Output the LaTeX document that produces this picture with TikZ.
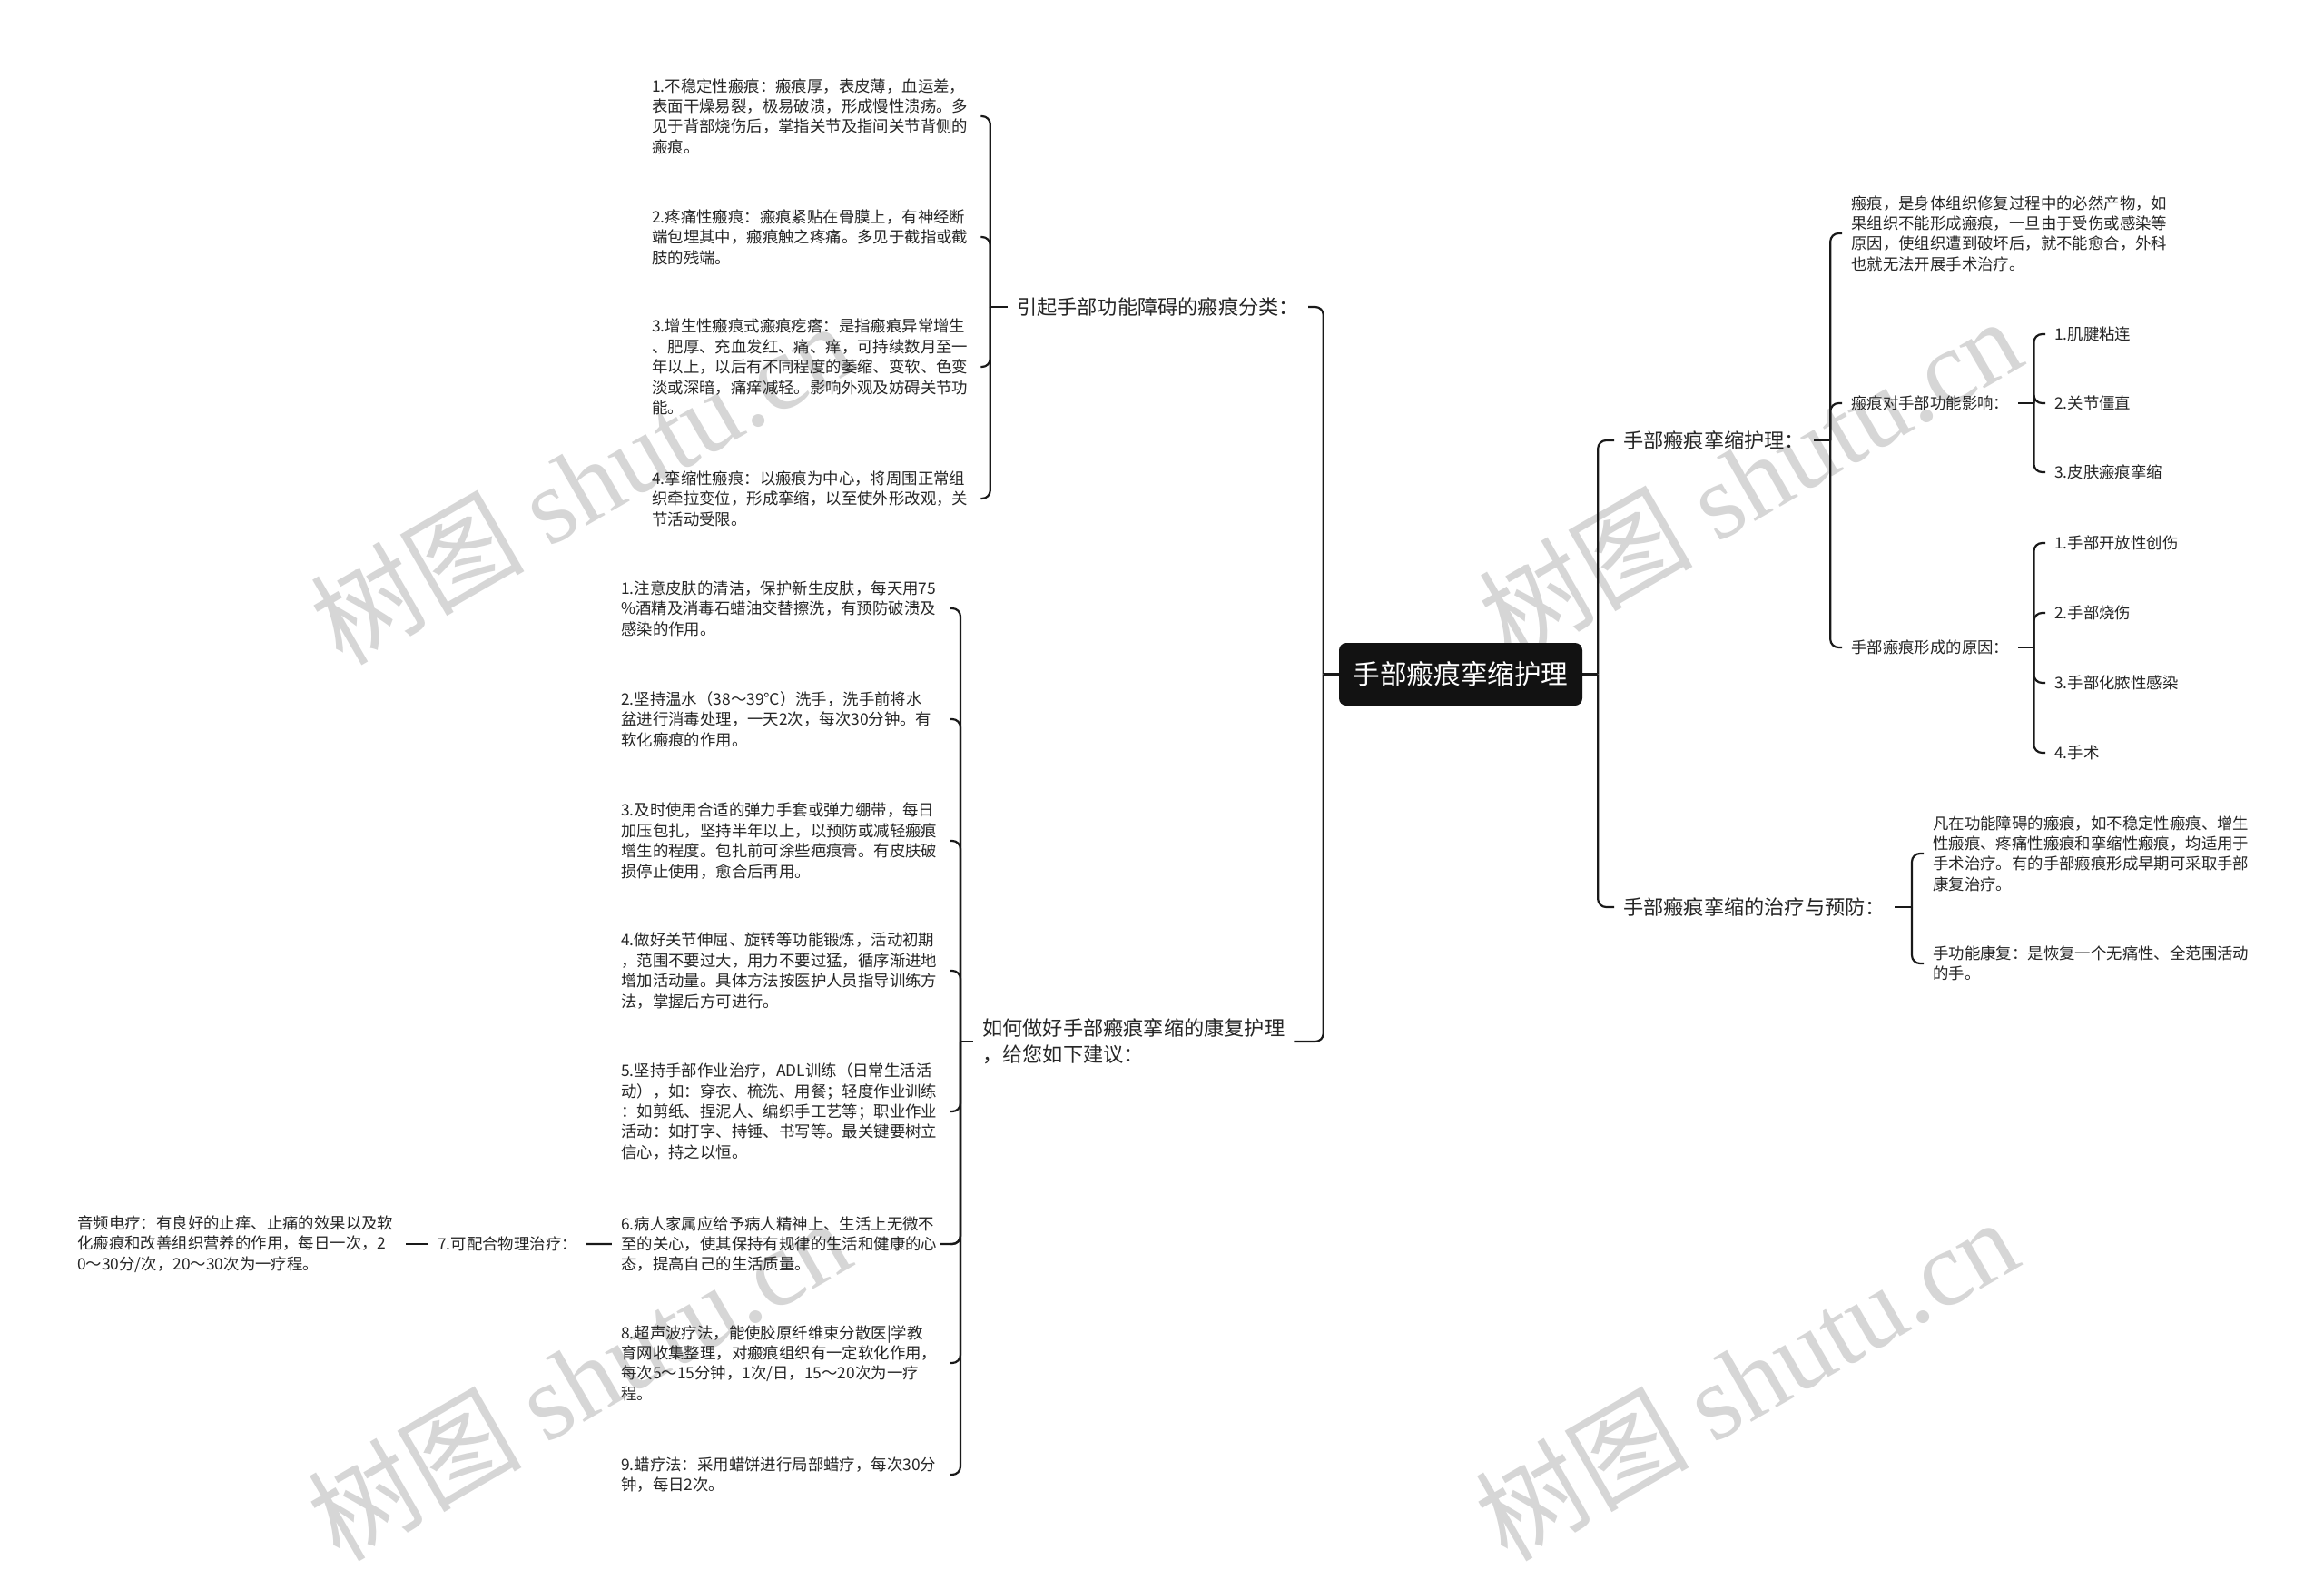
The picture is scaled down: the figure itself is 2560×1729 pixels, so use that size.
\documentclass[tikz,border=0pt]{standalone}
\usepackage{fontspec}
\setmainfont{Noto Sans CJK SC}
\newfontfamily\wmlatin{Liberation Serif}
\usetikzlibrary{calc}
\pgfdeclarelayer{bg}
\pgfdeclarelayer{under}
\pgfdeclarelayer{mask}
\pgfdeclarelayer{wm}
\pgfdeclarelayer{lines}
\pgfsetlayers{bg,under,mask,wm,lines,main}
\tikzset{
  conn/.style={draw=black!90, line width=2.2pt, rounded corners=9pt},
  lvone/.style={font=\fontsize{22.2}{29}\selectfont, text=black!85, inner xsep=10pt, inner ysep=3pt, align=left},
  lvtwo/.style={font=\fontsize{17.4}{22.4}\selectfont, text=black!85, inner xsep=10pt, inner ysep=3pt, align=left},
  para/.style={lvtwo, text width=352pt},
  rootbox/.style={rectangle, rounded corners=8pt, fill=black!93, text=white, font=\fontsize{29.6}{32}\selectfont, minimum width=268pt, minimum height=69pt, inner sep=0pt},
  wmark/.style={rotate=30, text=black!16, font=\fontsize{118}{118}\selectfont, inner sep=0pt}
}
\begin{document}
\begin{tikzpicture}[x=1pt,y=-1pt]
\useasboundingbox (0,0) rectangle (2560,1729);
\begin{pgfonlayer}{bg}
\fill[white] (0,0) rectangle (2560,1729);
\end{pgfonlayer}

% watermarks
\begin{pgfonlayer}{wm}
\node[wmark] (wm1) at (640,531) {树图 {\wmlatin shutu.cn}};
\node[wmark] (wm2) at (1927,526) {树图 {\wmlatin shutu.cn}};
\node[wmark] (wm3) at (637,1518) {树图 {\wmlatin shutu.cn}};
\node[wmark] (wm4) at (1923,1518) {树图 {\wmlatin shutu.cn}};
\end{pgfonlayer}

% root
\node[rootbox] (root) at (1609,742.5) {手部瘢痕挛缩护理};

% left main branches
\node[lvone, anchor=east] (b1) at (1441,338) {引起手部功能障碍的瘢痕分类：};
\node[lvone, anchor=west] (b2) at (1072,1147) {如何做好手部瘢痕挛缩的康复护理\\，给您如下建议：};

% branch 1 items
\node[para, anchor=west] (a1) at (708,128) {1.不稳定性瘢痕：瘢痕厚，表皮薄，血运差，\\表面干燥易裂，极易破溃，形成慢性溃疡。多\\见于背部烧伤后，掌指关节及指间关节背侧的\\瘢痕。};
\node[para, anchor=west] (a2) at (708,261) {2.疼痛性瘢痕：瘢痕紧贴在骨膜上，有神经断\\端包埋其中，瘢痕触之疼痛。多见于截指或截\\肢的残端。};
\node[para, anchor=west] (a3) at (708,404) {3.增生性瘢痕式瘢痕疙瘩：是指瘢痕异常增生\\、肥厚、充血发红、痛、痒，可持续数月至一\\年以上，以后有不同程度的萎缩、变软、色变\\淡或深暗，痛痒减轻。影响外观及妨碍关节功\\能。};
\node[para, anchor=west] (a4) at (708,549) {4.挛缩性瘢痕：以瘢痕为中心，将周围正常组\\织牵拉变位，形成挛缩，以至使外形改观，关\\节活动受限。};

% branch 2 items
\node[para, anchor=west] (c1) at (674,670) {1.注意皮肤的清洁，保护新生皮肤，每天用75\\\%酒精及消毒石蜡油交替擦洗，有预防破溃及\\感染的作用。};
\node[para, anchor=west] (c2) at (674,792) {2.坚持温水（38～39℃）洗手，洗手前将水\\盆进行消毒处理，一天2次，每次30分钟。有\\软化瘢痕的作用。};
\node[para, anchor=west] (c3) at (674,926) {3.及时使用合适的弹力手套或弹力绷带，每日\\加压包扎，坚持半年以上，以预防或减轻瘢痕\\增生的程度。包扎前可涂些疤痕膏。有皮肤破\\损停止使用，愈合后再用。};
\node[para, anchor=west] (c4) at (674,1069) {4.做好关节伸屈、旋转等功能锻炼，活动初期\\，范围不要过大，用力不要过猛，循序渐进地\\增加活动量。具体方法按医护人员指导训练方\\法，掌握后方可进行。};
\node[para, anchor=west] (c5) at (674,1224) {5.坚持手部作业治疗，ADL训练（日常生活活\\动），如：穿衣、梳洗、用餐；轻度作业训练\\：如剪纸、捏泥人、编织手工艺等；职业作业\\活动：如打字、持锤、书写等。最关键要树立\\信心，持之以恒。};
\node[para, anchor=west] (c6) at (674,1370) {6.病人家属应给予病人精神上、生活上无微不\\至的关心，使其保持有规律的生活和健康的心\\态，提高自己的生活质量。};
\node[lvtwo, anchor=west] (c7) at (472,1370) {7.可配合物理治疗：};
\node[para, anchor=west] (c7a) at (75,1370) {音频电疗：有良好的止痒、止痛的效果以及软\\化瘢痕和改善组织营养的作用，每日一次，2\\0～30分/次，20～30次为一疗程。};
\node[para, anchor=west] (c8) at (674,1501) {8.超声波疗法，能使胶原纤维束分散医|学教\\育网收集整理，对瘢痕组织有一定软化作用，\\每次5～15分钟，1次/日，15～20次为一疗\\程。};
\node[para, anchor=west] (c9) at (674,1624) {9.蜡疗法：采用蜡饼进行局部蜡疗，每次30分\\钟，每日2次。};

% right main branches
\node[lvone, anchor=west] (r1) at (1778,485) {手部瘢痕挛缩护理：};
\node[lvone, anchor=west] (r2) at (1778,999) {手部瘢痕挛缩的治疗与预防：};

\node[para, anchor=west] (r1a) at (2029,257) {瘢痕，是身体组织修复过程中的必然产物，如\\果组织不能形成瘢痕，一旦由于受伤或感染等\\原因，使组织遭到破坏后，就不能愈合，外科\\也就无法开展手术治疗。};
\node[lvtwo, anchor=west] (r1b) at (2029,444) {瘢痕对手部功能影响：};
\node[lvtwo, anchor=west] (r1c) at (2029,713) {手部瘢痕形成的原因：};

\node[lvtwo, anchor=west] (r1b1) at (2253,368) {1.肌腱粘连};
\node[lvtwo, anchor=west] (r1b2) at (2253,444) {2.关节僵直};
\node[lvtwo, anchor=west] (r1b3) at (2253,520) {3.皮肤瘢痕挛缩};

\node[lvtwo, anchor=west] (r1c1) at (2253,598) {1.手部开放性创伤};
\node[lvtwo, anchor=west] (r1c2) at (2253,675) {2.手部烧伤};
\node[lvtwo, anchor=west] (r1c3) at (2253,752) {3.手部化脓性感染};
\node[lvtwo, anchor=west] (r1c4) at (2253,829) {4.手术};

\node[para, anchor=west] (r2a) at (2119,940) {凡在功能障碍的瘢痕，如不稳定性瘢痕、增生\\性瘢痕、疼痛性瘢痕和挛缩性瘢痕，均适用于\\手术治疗。有的手部瘢痕形成早期可采取手部\\康复治疗。};
\node[para, anchor=west] (r2b) at (2119,1061) {手功能康复：是恢复一个无痛性、全范围活动\\的手。};

% bracket points
\coordinate (tl) at ($(root.west)+(-17,0)$);
\coordinate (tr) at ($(root.east)+(17,0)$);
\coordinate (kb1) at ($(b1.west)+(-19,0)$);
\coordinate (kb2) at ($(b2.west)+(-14,0)$);
\coordinate (kr1) at ($(r1.east)+(18,0)$);
\coordinate (kr1b) at ($(r1b.east)+(17,0)$);
\coordinate (kr1c) at ($(r1c.east)+(17,0)$);
\coordinate (kr2) at ($(r2.east)+(19,0)$);

% connector hidden behind item 6
\begin{pgfonlayer}{under}
\draw[conn] (kb2) |- (c7.east);
\end{pgfonlayer}
\begin{pgfonlayer}{mask}
\fill[white] ($(c6.south west)+(0,-2)$) rectangle ($(c6.north east)+(-10,2)$);
\end{pgfonlayer}

\begin{pgfonlayer}{lines}
\draw[conn] (root.west) -- (tl);
\draw[conn] (tl) |- (b1.east);
\draw[conn] (tl) |- (b2.east);
\draw[conn] (root.east) -- (tr);
\draw[conn] (tr) |- (r1.west);
\draw[conn] (tr) |- (r2.west);

\draw[conn] (b1.west) -- (kb1);
\foreach \n in {a1,a2,a3,a4} \draw[conn] (kb1) |- (\n.east);

\draw[conn] (b2.west) -- (kb2);
\foreach \n in {c1,c2,c3,c4,c5,c6,c8,c9} \draw[conn] (kb2) |- (\n.east);
\draw[conn] (c7.west) -- (c7a.east);

\draw[conn] (r1.east) -- (kr1);
\foreach \n in {r1a,r1b,r1c} \draw[conn] (kr1) |- (\n.west);
\draw[conn] (r1b.east) -- (kr1b);
\foreach \n in {r1b1,r1b2,r1b3} \draw[conn] (kr1b) |- (\n.west);
\draw[conn] (r1c.east) -- (kr1c);
\foreach \n in {r1c1,r1c2,r1c3,r1c4} \draw[conn] (kr1c) |- (\n.west);

\draw[conn] (r2.east) -- (kr2);
\foreach \n in {r2a,r2b} \draw[conn] (kr2) |- (\n.west);
\end{pgfonlayer}
\end{tikzpicture}
\end{document}
